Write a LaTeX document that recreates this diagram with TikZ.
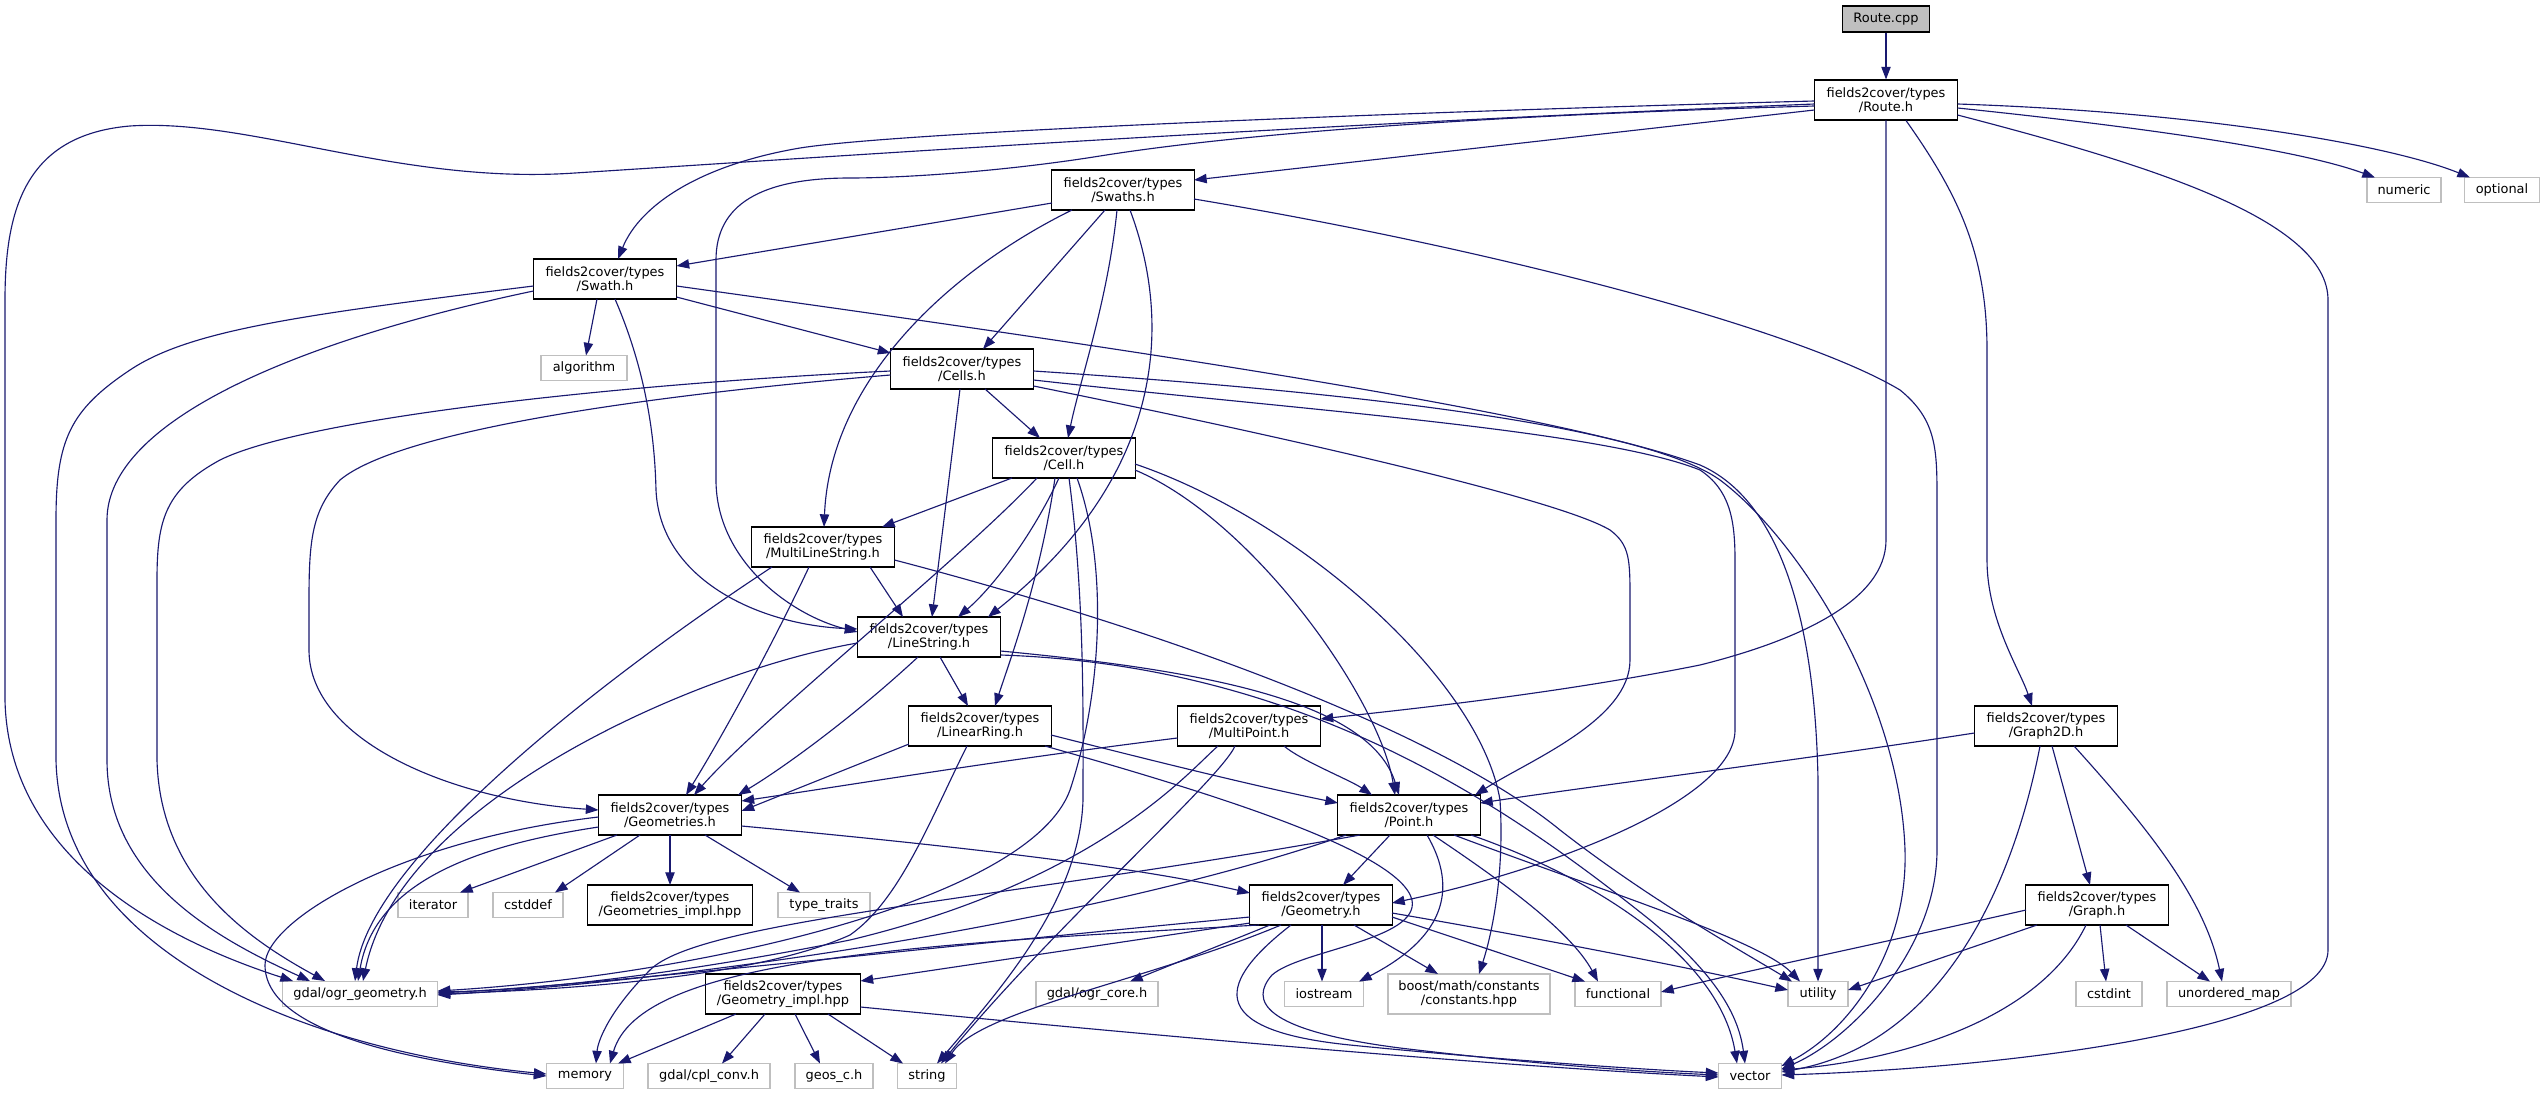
\documentclass[tikz,border=0pt]{standalone}
\usepackage{fontspec}
\newfontfamily\dejavu{DejaVu Sans}
\usetikzlibrary{arrows.meta,calc}
\definecolor{edgec}{HTML}{191970}
\definecolor{extgray}{HTML}{BFBFBF}
\definecolor{rootfill}{HTML}{BFBFBF}
\newcommand\nodefont{\dejavu\fontsize{9.7pt}{10.5pt}\selectfont}
\tikzset{
  box/.style={draw=black, fill=white, line width=0.8pt, minimum width=107.25pt, minimum height=30pt, inner sep=0pt, align=center, font=\nodefont},
  ext/.style={draw=extgray, fill=white, line width=0.8pt, minimum height=18.75pt, inner sep=0pt, font=\nodefont},
  e/.style={draw=edgec, line width=0.85pt, -{Triangle[length=9.5pt,width=7pt]}},
}
\begin{document}
\begin{tikzpicture}[x=0.75pt,y=-0.75pt]
\useasboundingbox (0,0) rectangle (2545,1095);
\fill[white] (0,0) rectangle (2545,1095);
% ---------------- nodes
\node[box, fill=rootfill, minimum width=65.25pt, minimum height=19.5pt] (rcpp) at (1886,19) {Route.cpp};
\node[box] (routeh) at (1886,100) {fields2cover/types\\/Route.h};
\node[box] (swaths) at (1123,190) {fields2cover/types\\/Swaths.h};
\node[box] (swath) at (605,279) {fields2cover/types\\/Swath.h};
\node[box] (cells) at (962,369) {fields2cover/types\\/Cells.h};
\node[ext, minimum width=64.5pt] (algorithm) at (584,368) {algorithm};
\node[ext, minimum width=55.5pt] (numeric) at (2404,190) {numeric};
\node[ext, minimum width=56.25pt] (optional) at (2502,190) {optional};
\node[box] (cell) at (1064,458) {fields2cover/types\\/Cell.h};
\node[box] (mls) at (823,547) {fields2cover/types\\/MultiLineString.h};
\node[box] (linestring) at (929,637) {fields2cover/types\\/LineString.h};
\node[box] (linearring) at (980,726) {fields2cover/types\\/LinearRing.h};
\node[box] (multipoint) at (1249,726) {fields2cover/types\\/MultiPoint.h};
\node[box] (graph2d) at (2046,726) {fields2cover/types\\/Graph2D.h};
\node[box] (geometries) at (670,815) {fields2cover/types\\/Geometries.h};
\node[box] (point) at (1409,815) {fields2cover/types\\/Point.h};
\node[ext, minimum width=52.5pt] (iterator) at (433,905) {iterator};
\node[ext, minimum width=52.5pt] (cstddef) at (528,905) {cstddef};
\node[box, minimum width=123.75pt] (geomsimpl) at (670,905) {fields2cover/types\\/Geometries\_impl.hpp};
\node[ext, minimum width=69pt] (typetraits) at (824,905) {type\_traits};
\node[box] (geometry) at (1321,905) {fields2cover/types\\/Geometry.h};
\node[box] (graph) at (2097,905) {fields2cover/types\\/Graph.h};
\node[ext, minimum width=116.25pt] (ogr) at (360,994) {gdal/ogr\_geometry.h};
\node[box, minimum width=116.25pt] (geomimpl) at (783,994) {fields2cover/types\\/Geometry\_impl.hpp};
\node[ext, minimum width=91.5pt] (ogrcore) at (1097,994) {gdal/ogr\_core.h};
\node[ext, minimum width=59.25pt] (iostream) at (1324,994) {iostream};
\node[ext, minimum width=121.5pt, minimum height=30pt, align=center] (constants) at (1469,994) {boost/math/constants\\/constants.hpp};
\node[ext, minimum width=64.5pt] (functional) at (1618,994) {functional};
\node[ext, minimum width=45pt] (utility) at (1818,994) {utility};
\node[ext, minimum width=49.5pt] (cstdint) at (2109,994) {cstdint};
\node[ext, minimum width=93pt] (umap) at (2229,994) {unordered\_map};
\node[ext, minimum width=57.75pt] (memory) at (585,1076) {memory};
\node[ext, minimum width=91.5pt] (cplconv) at (709,1076) {gdal/cpl\_conv.h};
\node[ext, minimum width=58.5pt] (geosc) at (834,1076) {geos\_c.h};
\node[ext, minimum width=44.25pt] (string) at (927,1076) {string};
\node[ext, minimum width=47.25pt] (vector) at (1750,1076) {vector};
% ---------------- edges
\draw[e] (rcpp.south) -- (routeh.north);
% Route.h
\draw[e] ($(routeh)+(-71.5,1)$) .. controls (1400,112) and (900,132) .. (800,148) .. controls (700,165) and (640,205) .. ($(swath)+(13,-20)$);
\draw[e] ($(routeh)+(-71.5,4)$) .. controls (1300,125) and (900,152) .. (575,173) .. controls (400,185) and (250,118) .. (130,126) .. controls (25,135) and (5,210) .. (5,300) -- (5,700) .. controls (8,850) and (150,935) .. ($(ogr)+(-67,-13)$);
\draw[e] ($(routeh)+(-71.5,10)$) -- ($(swaths)+(71,-10)$);
\draw[e] ($(routeh)+(-71.5,6)$) .. controls (1500,115) and (1250,132) .. (1100,156) .. controls (1000,172) and (900,178) .. (850,178) .. controls (760,178) and (716,205) .. (716,260) -- (716,480) .. controls (716,560) and (790,615) .. ($(linestring)+(-71.5,-5)$);
\draw[e] ($(routeh)+(0,20.5)$) -- (1886,540) .. controls (1886,600) and (1800,640) .. (1700,665) .. controls (1550,695) and (1400,710) .. ($(multipoint)+(71.5,-7)$);
\draw[e] ($(routeh)+(20,20.5)$) .. controls (1955,190) and (1987,250) .. (1987,350) -- (1987,560) .. controls (1987,620) and (2020,670) .. ($(graph2d)+(-14,-20)$);
\draw[e] ($(routeh)+(71.5,15)$) .. controls (2150,165) and (2328,220) .. (2328,300) -- (2328,950) .. controls (2328,1030) and (2000,1068) .. ($(vector)+(31.5,-1)$);
\draw[e] ($(routeh)+(71.5,8)$) .. controls (2150,128) and (2300,150) .. ($(numeric)+(-29,-12.5)$);
\draw[e] ($(routeh)+(71.5,4)$) .. controls (2200,112) and (2390,145) .. ($(optional)+(-32,-12.5)$);
% Swaths.h
\draw[e] ($(swaths)+(-71,13)$) -- ($(swath)+(71.5,-13)$);
\draw[e] ($(swaths)+(-18,20)$) -- ($(cells)+(21,-20)$);
\draw[e] ($(swaths)+(-6,20)$) .. controls (1108,300) and (1080,380) .. ($(cell)+(4,-20)$);
\draw[e] ($(swaths)+(-51,20)$) .. controls (950,270) and (830,380) .. ($(mls)+(1,-20)$);
\draw[e] ($(swaths)+(7,20)$) .. controls (1175,330) and (1160,480) .. ($(linestring)+(59,-20)$);
\draw[e] ($(swaths)+(71,9)$) .. controls (1500,250) and (1800,330) .. (1900,390) .. controls (1937,420) and (1937,450) .. (1937,500) -- (1937,850) .. controls (1937,950) and (1850,1040) .. ($(vector)+(31.5,-7)$);
% Swath.h
\draw[e] ($(swath)+(-8,20)$) -- ($(algorithm)+(2,-12.5)$);
\draw[e] ($(swath)+(10,20)$) .. controls (650,380) and (655,450) .. (656,490) .. controls (660,580) and (760,625) .. ($(linestring)+(-71.5,-8)$);
\draw[e] ($(swath)+(71.5,18)$) -- ($(cells)+(-71.5,-16)$);
\draw[e] ($(swath)+(71.5,7)$) .. controls (1100,345) and (1550,410) .. (1700,465) .. controls (1780,500) and (1815,620) .. (1818,780) -- ($(utility)+(0,-12.5)$);
\draw[e] ($(swath)+(-71.5,7)$) .. controls (300,315) and (190,330) .. (130,370) .. controls (70,410) and (56,440) .. (56,520) -- (56,760) .. controls (60,950) and (300,1050) .. ($(memory)+(-38.5,-2)$);
\draw[e] ($(swath)+(-71.5,12)$) .. controls (300,340) and (107,420) .. (107,520) -- (107,760) .. controls (107,880) and (220,940) .. ($(ogr)+(-50,-13)$);
% Cells.h
\draw[e] ($(cells)+(23,20)$) -- ($(cell)+(-24,-20)$);
\draw[e] ($(cells)+(-2,20)$) -- ($(linestring)+(3,-20)$);
\draw[e] ($(cells)+(-71.5,6)$) .. controls (650,395) and (400,430) .. (340,480) .. controls (312,510) and (309,540) .. (309,600) -- (309,650) .. controls (309,740) and (450,800) .. ($(geometries)+(-71.5,-5)$);
\draw[e] ($(cells)+(-71.5,2)$) .. controls (600,385) and (300,420) .. (220,460) .. controls (165,490) and (157,520) .. (157,580) -- (157,760) .. controls (160,880) and (250,940) .. ($(ogr)+(-35,-13)$);
\draw[e] ($(cells)+(71.5,17)$) .. controls (1300,440) and (1560,500) .. (1610,530) .. controls (1630,545) and (1630,560) .. (1630,600) -- (1630,660) .. controls (1630,720) and (1530,760) .. ($(point)+(66,-20)$);
\draw[e] ($(cells)+(71.5,11)$) .. controls (1300,410) and (1600,430) .. (1700,470) .. controls (1730,490) and (1735,520) .. (1735,560) -- (1735,730) .. controls (1735,800) and (1550,870) .. ($(geometry)+(71,-2)$);
\draw[e] ($(cells)+(71.5,2)$) .. controls (1400,395) and (1650,430) .. (1720,480) .. controls (1800,540) and (1900,700) .. (1905,850) .. controls (1908,950) and (1850,1030) .. ($(vector)+(31.5,-10)$);
% Cell.h
\draw[e] ($(cell)+(-52,20)$) -- ($(mls)+(59,-20)$);
\draw[e] ($(cell)+(-5,20)$) .. controls (1030,540) and (990,590) .. ($(linestring)+(29,-20)$);
\draw[e] ($(cell)+(-27,20)$) .. controls (960,560) and (760,720) .. ($(geometries)+(24,-20)$);
\draw[e] ($(cell)+(-9,20)$) .. controls (1040,580) and (1010,660) .. ($(linearring)+(15,-20)$);
\draw[e] ($(cell)+(5,20)$) .. controls (1085,600) and (1083,720) .. (1083,800) .. controls (1080,900) and (1000,990) .. ($(string)+(10,-12.5)$);
\draw[e] ($(cell)+(13,20)$) .. controls (1110,570) and (1100,700) .. (1070,790) .. controls (1030,900) and (700,975) .. ($(ogr)+(77.5,-3)$);
\draw[e] ($(cell)+(71,12)$) .. controls (1254,520) and (1380,700) .. ($(point)+(-14,-20)$);
\draw[e] ($(cell)+(71,6)$) .. controls (1300,520) and (1480,680) .. (1500,800) .. controls (1505,880) and (1490,940) .. ($(constants)+(10,-20)$);
% MultiLineString.h
\draw[e] ($(mls)+(47,20)$) -- ($(linestring)+(-26,-20)$);
\draw[e] ($(mls)+(-14,20)$) .. controls (770,650) and (720,740) .. ($(geometries)+(16,-20)$);
\draw[e] ($(mls)+(-51,20)$) .. controls (600,680) and (370,860) .. ($(ogr)+(-5,-13)$);
\draw[e] ($(mls)+(71.5,13)$) .. controls (1200,640) and (1450,740) .. (1560,830) .. controls (1650,900) and (1740,950) .. ($(utility)+(-26,-12.5)$);
% LineString.h
\draw[e] ($(linestring)+(11,20)$) -- ($(linearring)+(-12,-20)$);
\draw[e] ($(linestring)+(-11,20)$) .. controls (850,720) and (780,770) .. ($(geometries)+(68,-20)$);
\draw[e] ($(linestring)+(-71.5,6)$) .. controls (700,670) and (400,800) .. ($(ogr)+(3,-13)$);
\draw[e] ($(linestring)+(71.5,14)$) .. controls (1200,670) and (1370,700) .. ($(point)+(-10,-20)$);
\draw[e] ($(linestring)+(71.5,18)$) .. controls (1300,665) and (1500,800) .. (1650,920) .. controls (1710,970) and (1738,1010) .. ($(vector)+(-5,-12.5)$);
% LinearRing.h
\draw[e] ($(linearring)+(-71,18)$) -- ($(geometries)+(71.5,-4)$);
\draw[e] ($(linearring)+(-13,20)$) .. controls (930,820) and (900,900) .. (850,935) .. controls (750,980) and (550,990) .. ($(ogr)+(77.5,0)$);
\draw[e] ($(linearring)+(71,9)$) .. controls (1150,760) and (1250,785) .. ($(point)+(-71,-12)$);
\draw[e] ($(linearring)+(65,20)$) .. controls (1200,790) and (1400,850) .. (1412,900) .. controls (1420,940) and (1300,950) .. (1272,975) .. controls (1250,1000) and (1260,1030) .. (1400,1048) .. controls (1550,1066) and (1650,1072) .. ($(vector)+(-31.5,-1)$);
% MultiPoint.h
\draw[e] ($(multipoint)+(-71.5,12)$) .. controls (1000,760) and (850,785) .. ($(geometries)+(71.5,-14)$);
\draw[e] ($(multipoint)+(-31,20)$) .. controls (1190,770) and (1100,880) .. (850,940) .. controls (700,970) and (550,990) .. ($(ogr)+(77.5,-2)$);
\draw[e] ($(multipoint)+(-14,20)$) .. controls (1220,780) and (1050,930) .. ($(string)+(14,-12.5)$);
\draw[e] ($(multipoint)+(35,20)$) .. controls (1300,760) and (1350,780) .. ($(point)+(-37,-20)$);
% Point.h
\draw[e] ($(point)+(-19,20)$) -- ($(geometry)+(22,-20)$);
\draw[e] ($(point)+(-63,20)$) .. controls (1100,920) and (700,980) .. ($(ogr)+(77.5,1)$);
\draw[e] ($(point)+(-49,20)$) .. controls (1000,900) and (700,920) .. (650,970) .. controls (610,1010) and (598,1040) .. ($(memory)+(11,-12.5)$);
\draw[e] ($(point)+(18,20)$) .. controls (1465,900) and (1430,945) .. ($(iostream)+(35,-12.5)$);
\draw[e] ($(point)+(24,20)$) .. controls (1500,880) and (1570,930) .. ($(functional)+(-20,-12.5)$);
\draw[e] ($(point)+(45,20)$) .. controls (1600,890) and (1760,940) .. ($(utility)+(-18,-12.5)$);
\draw[e] ($(point)+(62,20)$) .. controls (1600,880) and (1720,960) .. ($(vector)+(-13,-12.5)$);
% Geometry.h
\draw[e] ($(geometry)+(-71,12)$) .. controls (900,950) and (600,985) .. ($(ogr)+(77.5,-1)$);
\draw[e] ($(geometry)+(-71,18)$) -- ($(geomimpl)+(77.5,-13)$);
\draw[e] ($(geometry)+(-62,20)$) .. controls (900,945) and (640,960) .. ($(memory)+(25,-12.5)$);
\draw[e] ($(geometry)+(-51,20)$) -- ($(ogrcore)+(33,-12.5)$);
\draw[e] ($(geometry)+(-40,20)$) .. controls (1150,980) and (980,1010) .. ($(string)+(18,-12.5)$);
\draw[e] ($(geometry)+(1,20)$) -- ($(iostream)+(-2,-12.5)$);
\draw[e] ($(geometry)+(33,20)$) -- ($(constants)+(-31,-20)$);
\draw[e] ($(geometry)+(71,12)$) -- ($(functional)+(-33,-12.5)$);
\draw[e] ($(geometry)+(71,8)$) .. controls (1550,940) and (1700,970) .. ($(utility)+(-30,-4)$);
\draw[e] ($(geometry)+(-30,20)$) .. controls (1220,980) and (1200,1030) .. (1350,1045) .. controls (1500,1060) and (1650,1070) .. ($(vector)+(-31.5,-3)$);
% Geometries.h
\draw[e] ($(geometries)+(-53,20)$) -- ($(iterator)+(27,-12.5)$);
\draw[e] ($(geometries)+(-30,20)$) -- ($(cstddef)+(27,-12.5)$);
\draw[e] ($(geometries)+(0,20)$) -- ($(geomsimpl)+(0,-20)$);
\draw[e] ($(geometries)+(35,20)$) -- ($(typetraits)+(-24,-12.5)$);
\draw[e] ($(geometries)+(71.5,11)$) .. controls (1000,850) and (1150,870) .. ($(geometry)+(-71,-12)$);
\draw[e] ($(geometries)+(-71.5,12)$) .. controls (480,845) and (375,880) .. ($(ogr)+(-2,-13)$);
\draw[e] ($(geometries)+(-71.5,2)$) .. controls (400,840) and (265,920) .. (265,965) .. controls (265,1030) and (400,1060) .. ($(memory)+(-38.5,0)$);
% Geometry_impl.hpp
\draw[e] ($(geomimpl)+(-47,20)$) -- ($(memory)+(33,-12.5)$);
\draw[e] ($(geomimpl)+(-18,20)$) -- ($(cplconv)+(13,-12.5)$);
\draw[e] ($(geomimpl)+(12,20)$) -- ($(geosc)+(-14,-12.5)$);
\draw[e] ($(geomimpl)+(45,20)$) -- ($(string)+(-24,-12.5)$);
\draw[e] ($(geomimpl)+(77.5,13)$) .. controls (1200,1040) and (1500,1066) .. ($(vector)+(-31.5,1)$);
% Graph2D.h
\draw[e] ($(graph2d)+(-71.5,7)$) .. controls (1800,760) and (1600,785) .. ($(point)+(71,-12)$);
\draw[e] ($(graph2d)+(-6,20)$) .. controls (2020,850) and (1960,1040) .. ($(vector)+(31.5,-4)$);
\draw[e] ($(graph2d)+(6,20)$) -- ($(graph)+(-7,-20)$);
\draw[e] ($(graph2d)+(28,20)$) .. controls (2150,830) and (2205,900) .. ($(umap)+(-7,-12.5)$);
% Graph.h
\draw[e] ($(graph)+(-71,5)$) .. controls (1850,950) and (1750,970) .. ($(functional)+(43,-2)$);
\draw[e] ($(graph)+(-60,20)$) -- ($(utility)+(30,-4)$);
\draw[e] ($(graph)+(-11,20)$) .. controls (2040,1020) and (1900,1060) .. ($(vector)+(31.5,-6)$);
\draw[e] ($(graph)+(3,20)$) -- ($(cstdint)+(-3,-12.5)$);
\draw[e] ($(graph)+(29,20)$) -- ($(umap)+(-19,-12.5)$);
\end{tikzpicture}
\end{document}
